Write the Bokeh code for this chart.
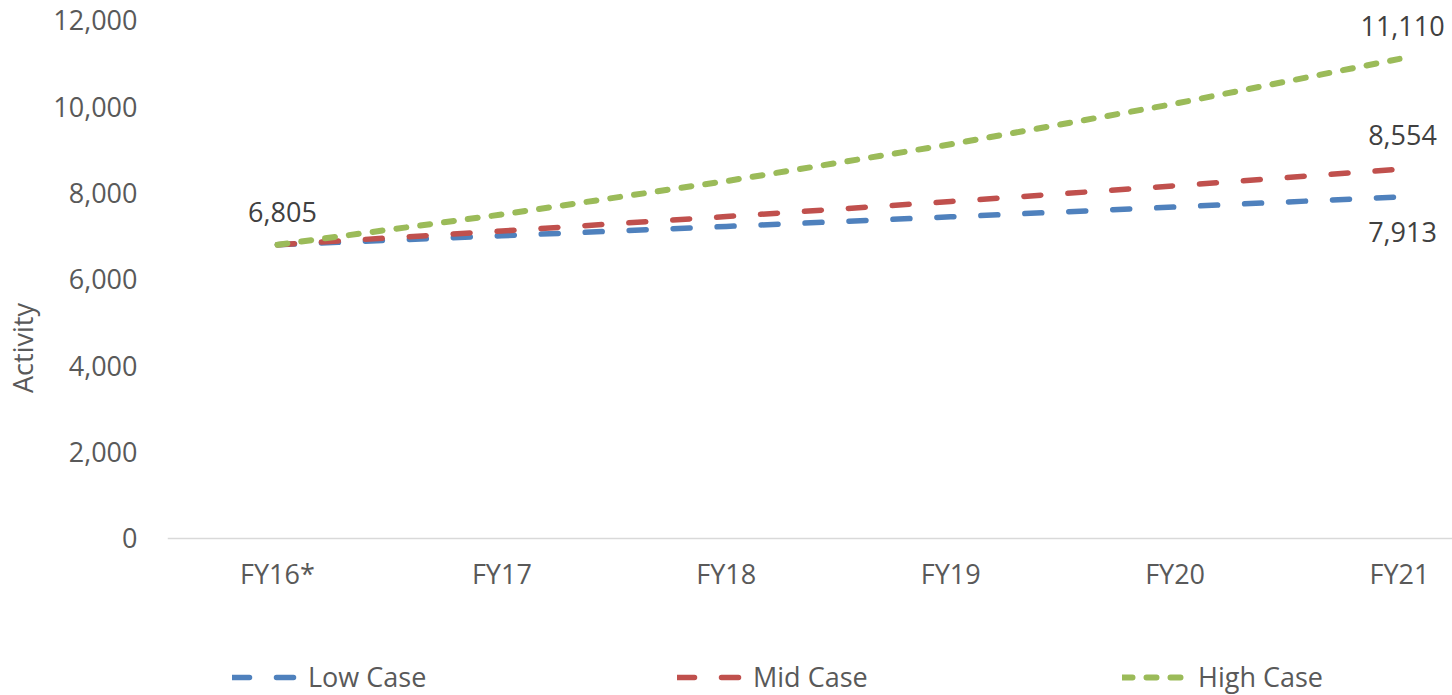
from bokeh.plotting import figure
from bokeh.models import (Range1d, FixedTicker, NumeralTickFormatter, ColumnDataSource,
                          Legend, LegendItem)
from bokeh.core.properties import value
from bokeh.embed import file_html
from bokeh.resources import INLINE

categories = ["FY16*", "FY17", "FY18", "FY19", "FY20", "FY21"]
low_case = [6805, 7014, 7229, 7451, 7680, 7913]
mid_case = [6805, 7123, 7457, 7806, 8171, 8554]
high_case = [6805, 7506, 8279, 9132, 10073, 11110]
y_ticks = [0, 2000, 4000, 6000, 8000, 10000, 12000]

FONT = "Open Sans"
TICK_COLOR = "#595959"
LABEL_COLOR = "#404040"
FS = "27px"

xs = list(range(len(categories)))

p = figure(width=1452, height=695, output_backend="svg", toolbar_location=None,
           x_range=Range1d(-0.49, 5.236), y_range=Range1d(-3637, 12463),
           min_border_left=167, min_border_right=0, min_border_top=0,
           min_border_bottom=0)
p.outline_line_color = None
p.xgrid.visible = False
p.ygrid.visible = False

# y axis
p.yaxis.ticker = FixedTicker(ticks=y_ticks)
p.yaxis.formatter = NumeralTickFormatter(format="0,0")
p.yaxis.axis_line_color = None
p.yaxis.major_tick_line_color = None
p.yaxis.minor_tick_line_color = None
p.yaxis.major_tick_out = 0
p.yaxis.major_label_standoff = 30
p.yaxis.major_label_text_font = FONT
p.yaxis.major_label_text_font_size = FS
p.yaxis.major_label_text_color = TICK_COLOR
p.yaxis.axis_label = "Activity"
p.yaxis.axis_label_text_font = FONT
p.yaxis.axis_label_text_font_size = FS
p.yaxis.axis_label_text_font_style = "normal"
p.yaxis.axis_label_text_color = TICK_COLOR
p.yaxis.axis_label_standoff = 9

# x axis, drawn at y = 0 inside the frame
p.xaxis.fixed_location = 0
p.xaxis.ticker = FixedTicker(ticks=xs)
p.xaxis.major_label_overrides = {i: c for i, c in enumerate(categories)}
p.xaxis.axis_line_color = "#d9d9d9"
p.xaxis.axis_line_width = 1.5
p.xaxis.major_tick_line_color = None
p.xaxis.minor_tick_line_color = None
p.xaxis.major_tick_out = 0
p.xaxis.major_label_standoff = 17
p.xaxis.major_label_text_font = FONT
p.xaxis.major_label_text_font_size = FS
p.xaxis.major_label_text_color = TICK_COLOR

r_low = p.line(xs, low_case, line_color="#4F81BD", line_width=5.5, line_dash="17 27",
               line_cap="round", line_join="round")
r_mid = p.line(xs, mid_case, line_color="#C0504D", line_width=5.5, line_dash="17 27",
               line_cap="round", line_join="round")
r_high = p.line(xs, high_case, line_color="#9BBB59", line_width=6, line_dash="10 14",
                line_cap="round", line_join="round")

# data labels
lab_vals = [low_case[0], high_case[-1], mid_case[-1], low_case[-1]]
lab = ColumnDataSource(dict(
    x=[0, 5, 5, 5],
    y=lab_vals,
    t=["{:,}".format(v) for v in lab_vals],
    dy=[-33, -33, -34, 35],
    dx=[5, 3, 3, 3],
))
p.text(x="x", y="y", text="t", source=lab, x_offset="dx", y_offset="dy",
       text_align="center", text_baseline="middle", text_font=value(FONT),
       text_font_size=FS, text_color=LABEL_COLOR)

legend = Legend(items=[LegendItem(label="Low Case", renderers=[r_low]),
                       LegendItem(label="Mid Case", renderers=[r_mid]),
                       LegendItem(label="High Case", renderers=[r_high])],
                orientation="horizontal", location=(65, 0),
                glyph_width=68, glyph_height=20, label_standoff=8, label_width=369,
                label_height=20, spacing=0, padding=0, margin=0,
                border_line_color=None, background_fill_alpha=0,
                label_text_font=FONT, label_text_font_size=FS,
                label_text_color=TICK_COLOR)
p.add_layout(legend, "center")

open("out.html", "w").write(file_html(p, INLINE))
